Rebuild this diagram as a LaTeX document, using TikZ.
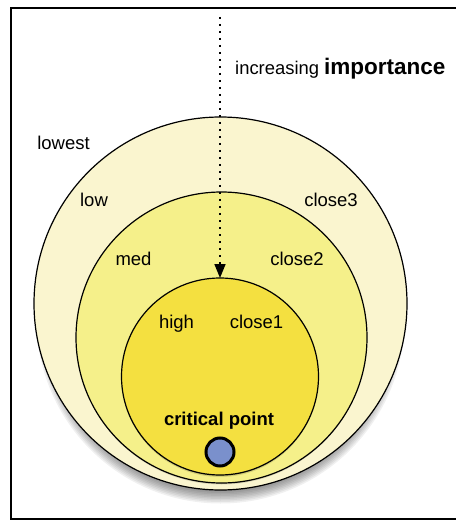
\documentclass[tikz,border=0pt]{standalone}
\usepackage{fontspec}
\setmainfont{Liberation Sans}
\usetikzlibrary{arrows.meta}
\definecolor{ringA}{HTML}{FAF5CF}
\definecolor{ringB}{HTML}{F5F08A}
\definecolor{ringC}{HTML}{F4E040}
\definecolor{ptblue}{HTML}{7A90CC}
\begin{document}
\begin{tikzpicture}[x=1pt,y=-1pt,
  ring/.style={circle,draw=black,line width=1.2pt,inner sep=0pt,outer sep=0pt},
  lbl/.style={anchor=base,inner sep=0pt,font=\fontsize{18.5}{22}\selectfont},
  shadowlayer/.style={fill=black,opacity=0.06}]
\useasboundingbox (0,0) rectangle (455,521);
\draw[line width=2pt] (465,8) -- (11,8) -- (11,519) -- (465,519);
% soft drop shadows
\coordinate (shA) at (220.5,319.5);
\foreach \r in {184,182.5,...,168} \fill[shadowlayer] (shA) circle (\r pt);
\node[ring,fill=ringA,minimum size=373pt] (outer) at (220.5,303.5) {};
\coordinate (shB) at (221.5,340);
\foreach \r in {144.5,143.5,142.5} \fill[fill=black,opacity=0.12] (shB) circle (\r pt);
\node[ring,fill=ringB,minimum size=291pt] (middle) at (221.5,337.5) {};
\coordinate (shC) at (220,379);
\foreach \r in {98,97,96} \fill[fill=black,opacity=0.12] (shC) circle (\r pt);
\node[ring,fill=ringC,minimum size=197pt] (inner) at (220,376.5) {};
\node[circle,draw=black,line width=3pt,fill=ptblue,minimum size=28pt,inner sep=0pt] (pt) at (220,452) {};
\coordinate (top) at (220,17);
\draw[line width=1.6pt,dash pattern=on 2pt off 5pt,-{Triangle[length=14pt,width=11pt]}] (top) -- (inner.north);
\node[anchor=base west,inner sep=0pt] (title) at (235,75) {\fontsize{18.4}{22}\selectfont increasing \fontsize{22.5}{26}\selectfont\bfseries importance};
\node[lbl] (lowest) at (63.5,150) {lowest};
\node[lbl] (low) at (94,207) {low};
\node[lbl] (close3) at (331,207) {close3};
\node[lbl] (med) at (133.5,265) {med};
\node[lbl] (close2) at (297,265) {close2};
\node[lbl] (high) at (176.5,328) {high};
\node[lbl] (close1) at (256.5,328) {close1};
\node[lbl,font=\fontsize{18.5}{22}\selectfont\bfseries] (crit) at (219,425) {critical point};
\end{tikzpicture}
\end{document}
